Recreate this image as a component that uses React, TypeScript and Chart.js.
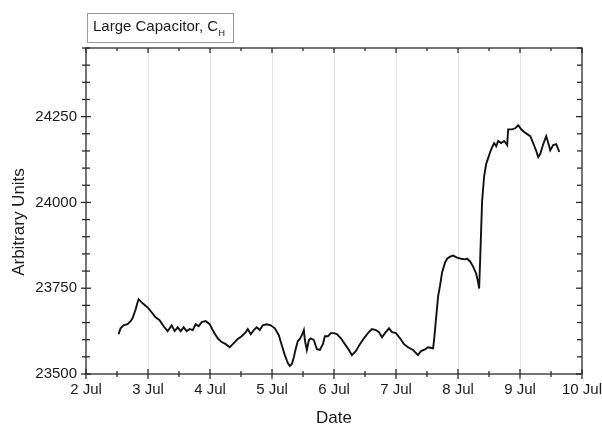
import React, { useEffect, useRef } from "react";
import { Chart, registerables } from "chart.js";

Chart.register(...registerables);

const titleMain = "Large Capacitor, C";
const titleSub = "H";
const xAxisTitle = "Date";
const yAxisTitle = "Arbitrary Units";

const xMajorTicks = [2, 3, 4, 5, 6, 7, 8, 9, 10];
const xMinorTicks = [2.5, 3.5, 4.5, 5.5, 6.5, 7.5, 8.5, 9.5];
const yMajorTicks = [23500, 23750, 24000, 24250];
const yMinorTicks = [
  23550, 23600, 23650, 23700, 23800, 23850, 23900, 23950, 24050, 24100, 24150,
  24200, 24300, 24350, 24400, 24450,
];
const monthLabel = "Jul";

// time in days of July
const days = [
  2.525, 2.557, 2.606, 2.67, 2.719, 2.751, 2.8, 2.832, 2.848, 2.913, 2.994,
  3.058, 3.123, 3.187, 3.252, 3.317, 3.349, 3.381, 3.43, 3.478, 3.527, 3.575,
  3.624, 3.672, 3.721, 3.769, 3.817, 3.866, 3.931, 3.995, 4.06, 4.124, 4.189,
  4.254, 4.318, 4.383, 4.447, 4.512, 4.577, 4.609, 4.657, 4.706, 4.754, 4.803,
  4.851, 4.916, 4.981, 5.045, 5.11, 5.158, 5.207, 5.255, 5.288, 5.32, 5.352,
  5.385, 5.417, 5.449, 5.482, 5.514, 5.53, 5.562, 5.595, 5.627, 5.675, 5.724,
  5.772, 5.821, 5.853, 5.901, 5.95, 5.998, 6.047, 6.111, 6.176, 6.24, 6.289,
  6.354, 6.418, 6.483, 6.547, 6.612, 6.677, 6.725, 6.774, 6.822, 6.887, 6.935,
  7.0, 7.065, 7.129, 7.194, 7.275, 7.355, 7.404, 7.468, 7.517, 7.598, 7.614,
  7.646, 7.679, 7.711, 7.743, 7.792, 7.824, 7.872, 7.921, 7.985, 8.05, 8.114,
  8.147, 8.195, 8.244, 8.292, 8.325, 8.341, 8.357, 8.373, 8.389, 8.422, 8.454,
  8.486, 8.519, 8.551, 8.583, 8.616, 8.648, 8.696, 8.745, 8.793, 8.809, 8.874,
  8.922, 8.971, 9.019, 9.068, 9.116, 9.165, 9.213, 9.262, 9.294, 9.326, 9.375,
  9.423, 9.456, 9.488, 9.536, 9.585, 9.633,
];

const values = [
  23616, 23633, 23642, 23645, 23654, 23662, 23688, 23709, 23718, 23706, 23694,
  23680, 23665, 23657, 23639, 23625, 23633, 23642, 23625, 23636, 23625, 23636,
  23625, 23631, 23628, 23645, 23639, 23651, 23654, 23645, 23622, 23604, 23593,
  23587, 23578, 23590, 23602, 23610, 23622, 23631, 23616, 23628, 23636, 23628,
  23642, 23645, 23642, 23633, 23613, 23584, 23555, 23532, 23523, 23529, 23549,
  23575, 23596, 23602, 23613, 23628, 23599, 23570, 23599, 23604, 23599, 23572,
  23570, 23587, 23610, 23610, 23619, 23619, 23616, 23604, 23587, 23570, 23555,
  23567, 23587, 23604, 23619, 23631, 23628, 23622, 23607, 23619, 23633, 23622,
  23619, 23604, 23587, 23578, 23570, 23555, 23567, 23572, 23578, 23575, 23599,
  23662, 23726, 23758, 23796, 23825, 23836, 23842, 23845, 23839, 23836, 23834,
  23836, 23828, 23813, 23793, 23767, 23749, 23831, 23918, 24005, 24077, 24112,
  24129, 24147, 24161, 24173, 24164, 24179, 24173, 24179, 24167, 24213, 24213,
  24216, 24225, 24213, 24205, 24199, 24193, 24173, 24150, 24132, 24141, 24170,
  24193, 24173, 24152, 24167, 24170, 24147,
];

const FONT = "'Liberation Sans', Arial, sans-serif";
const AXIS_COLOR = "#2a2a2a";

const decorPlugin = {
  id: "decor",
  afterDraw(chart: any) {
    const { ctx, chartArea } = chart;
    const { left, right, top, bottom } = chartArea;
    const xs = chart.scales.x;
    const ys = chart.scales.y;
    ctx.save();
    ctx.strokeStyle = AXIS_COLOR;
    ctx.lineWidth = 1.3;
    ctx.strokeRect(left, top, right - left, bottom - top);

    const line = (x1: number, y1: number, x2: number, y2: number) => {
      ctx.beginPath();
      ctx.moveTo(x1, y1);
      ctx.lineTo(x2, y2);
      ctx.stroke();
    };
    xMajorTicks.forEach((v) => {
      const x = xs.getPixelForValue(v);
      line(x, bottom - 5, x, bottom + 5);
      line(x, top, x, top + 5);
    });
    xMinorTicks.forEach((v) => {
      const x = xs.getPixelForValue(v);
      line(x, bottom - 3, x, bottom + 3);
      line(x, top, x, top + 3);
    });
    yMajorTicks.forEach((v) => {
      const y = ys.getPixelForValue(v);
      line(left - 5, y, left + 5, y);
      line(right - 6, y, right, y);
    });
    yMinorTicks.forEach((v) => {
      const y = ys.getPixelForValue(v);
      line(left - 4, y, left + 4, y);
      line(right - 5, y, right, y);
    });

    // title box
    ctx.fillStyle = "#ffffff";
    ctx.strokeStyle = "#9a9a9a";
    ctx.lineWidth = 1;
    ctx.fillRect(87.5, 13.5, 146, 29);
    ctx.strokeRect(87.5, 13.5, 146, 29);
    ctx.fillStyle = "#1a1a1a";
    ctx.textAlign = "left";
    ctx.textBaseline = "alphabetic";
    ctx.font = `15px ${FONT}`;
    ctx.fillText(titleMain, 93, 31);
    const w = ctx.measureText(titleMain).width;
    ctx.font = `9px ${FONT}`;
    ctx.fillText(titleSub, 93 + w + 0.5, 36);

    // axis titles
    ctx.font = `17px ${FONT}`;
    ctx.textAlign = "center";
    ctx.textBaseline = "middle";
    ctx.fillText(xAxisTitle, (left + right) / 2, 418);
    ctx.save();
    ctx.translate(19, 222);
    ctx.rotate(-Math.PI / 2);
    ctx.fillText(yAxisTitle, 0, 0);
    ctx.restore();
    ctx.restore();
  },
};

export default function App() {
  const ref = useRef<HTMLCanvasElement | null>(null);
  useEffect(() => {
    if (!ref.current) return;
    const chart = new Chart(ref.current, {
      type: "line",
      data: {
        datasets: [
          {
            data: days.map((d, i) => ({ x: d, y: values[i] })),
            borderColor: "#111111",
            borderWidth: 1.9,
            pointRadius: 0,
            tension: 0,
            fill: false,
          },
        ],
      },
      options: {
        animation: false,
        responsive: false,
        devicePixelRatio: 1,
        layout: { padding: { top: 48, right: 20, left: 0, bottom: 0 } },
        plugins: {
          legend: { display: false },
          tooltip: { enabled: false },
          title: { display: false },
        },
        scales: {
          x: {
            type: "linear",
            min: 2,
            max: 10,
            afterBuildTicks: (s: any) => {
              s.ticks = xMajorTicks.map((v) => ({ value: v }));
            },
            afterFit: (s: any) => {
              s.height = 51;
              s.paddingLeft = 0;
              s.paddingRight = 0;
            },
            ticks: {
              autoSkip: false,
              maxRotation: 0,
              padding: 7,
              color: "#1a1a1a",
              font: { family: FONT, size: 15 },
              callback: (v: any) => `${v} ${monthLabel}`,
            },
            grid: {
              display: true,
              drawTicks: false,
              color: (c: any) =>
                c.tick && (c.tick.value === 2 || c.tick.value === 10)
                  ? "rgba(0,0,0,0)"
                  : "#e3e3e3",
              lineWidth: 1,
            },
            border: { display: false },
          },
          y: {
            type: "linear",
            min: 23500,
            max: 24450,
            afterBuildTicks: (s: any) => {
              s.ticks = yMajorTicks.map((v) => ({ value: v }));
            },
            afterFit: (s: any) => {
              s.width = 86;
              s.paddingTop = 0;
              s.paddingBottom = 0;
            },
            ticks: {
              autoSkip: false,
              padding: 9,
              color: "#1a1a1a",
              font: { family: FONT, size: 15 },
              callback: (v: any) => String(v),
            },
            grid: { display: false, drawTicks: false },
            border: { display: false },
          },
        },
      },
      plugins: [decorPlugin],
    });
    return () => chart.destroy();
  }, []);
  return (
    <div style={{ position: "absolute", left: 0, top: 0, width: 602, height: 425, background: "#fff" }}>
      <canvas ref={ref} width={602} height={425} style={{ width: 602, height: 425, display: "block" }} />
    </div>
  );
}
